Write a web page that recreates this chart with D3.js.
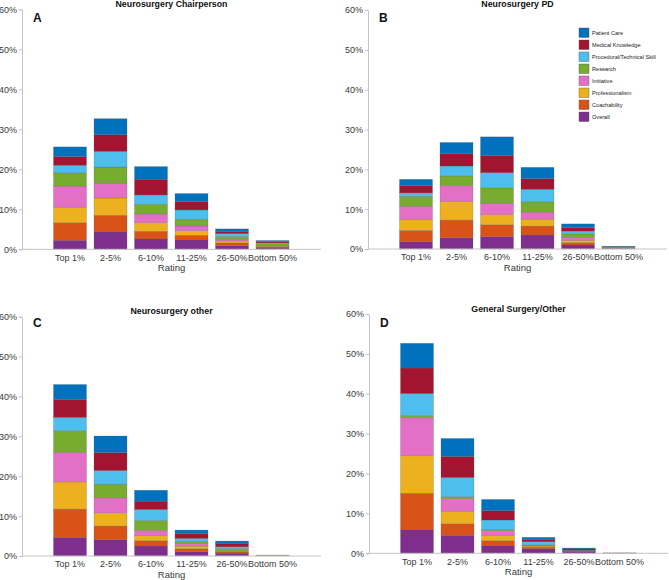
<!DOCTYPE html>
<html>
<head>
<meta charset="utf-8">
<script src="https://cdn.jsdelivr.net/npm/d3@7"></script>
<style>
  html, body { margin: 0; padding: 0; background: #fff; }
  svg { display: block; font-family: "Liberation Sans", Arial, sans-serif; }
</style>
</head>
<body>
<svg id="chart" width="669" height="580"></svg>
<script>
// ---------- DATA ----------
const ratings = ["Top 1%", "2-5%", "6-10%", "11-25%", "26-50%", "Bottom 50%"];
// stacking order: bottom -> top
const seriesNames = ["Overall", "Coachability", "Professionalism", "Initiative",
  "Research", "Procedural/Technical Skill", "Medical Knowledge", "Patient Care"];
const seriesColors = ["#7E2F8E", "#D95319", "#EDB120", "#E46FC6",
  "#77AC30", "#4DBEEE", "#A2142F", "#0072BD"];
const yTicks = [0, 10, 20, 30, 40, 50, 60];
const panelTitles = ["Neurosurgery Chairperson", "Neurosurgery PD", "Neurosurgery other", "General Surgery/Other"];
const panelLetters = ["A", "B", "C", "D"];

// values in % (rows follow seriesNames, columns follow ratings)
const chairpersonValues = [
  [2.25, 4.33, 2.58, 2.33, 0.9, 0.3],
  [4.4, 4.17, 1.92, 1.17, 0.7, 0.3],
  [3.9, 4.33, 2.17, 1.17, 0.5, 0.2],
  [5.25, 3.75, 2.17, 1.17, 0.5, 0.2],
  [3.3, 4.0, 2.42, 1.67, 0.6, 0.4],
  [1.9, 3.9, 2.33, 2.33, 0.7, 0.2],
  [2.2, 4.17, 3.92, 2.1, 0.6, 0.3],
  [2.4, 4.0, 3.17, 2.0, 0.6, 0.3]
];
const pdValues = [
  [1.83, 2.83, 3.08, 3.5, 1.0, 0.1],
  [2.83, 4.42, 3.0, 2.25, 0.6, 0.05],
  [2.67, 4.67, 2.58, 1.75, 0.6, 0.05],
  [3.42, 4.0, 2.83, 1.75, 0.7, 0.05],
  [2.5, 2.42, 3.83, 2.58, 0.9, 0.15],
  [0.83, 2.5, 3.83, 3.17, 0.7, 0.1],
  [1.83, 3.08, 4.33, 2.67, 0.9, 0.1],
  [1.58, 2.83, 4.67, 2.83, 0.9, 0.1]
];
const otherValues = [
  [4.67, 4.08, 2.5, 1.08, 0.7, 0],
  [7.08, 3.42, 1.33, 0.75, 0.3, 0],
  [6.83, 3.33, 1.25, 0.67, 0.2, 0.1],
  [7.42, 3.75, 1.33, 0.58, 0.1, 0],
  [5.42, 3.42, 2.5, 0.58, 0.6, 0.15],
  [3.33, 3.42, 2.75, 0.75, 0.4, 0],
  [4.5, 4.5, 2.08, 1.17, 0.9, 0],
  [3.75, 4.17, 2.75, 0.92, 0.55, 0]
];
const generalSurgeryValues = [
  [5.85, 4.5, 1.84, 1.2, 0.5, 0.05],
  [9.2, 2.9, 1.33, 0.35, 0.05, 0],
  [9.4, 3.1, 1.33, 0.3, 0.05, 0],
  [9.6, 3.2, 1.2, 0.15, 0.05, 0],
  [0.5, 0.5, 0.3, 0.1, 0.05, 0],
  [5.5, 4.8, 2.35, 0.8, 0.08, 0],
  [6.4, 5.3, 2.35, 0.6, 0.35, 0.05],
  [6.2, 4.5, 2.8, 0.5, 0.2, 0]
];

// ---------- LAYOUT ----------
const panels = [
  { values: chairpersonValues,    left: 22,  top: 9.3,   bottom: 249.3, titleY: 7,     letterY: 21.7, legend: false },
  { values: pdValues,             left: 368, top: 10,    bottom: 249,   titleY: 7,     letterY: 21.7, legend: true },
  { values: otherValues,          left: 22,  top: 316.7, bottom: 556,   titleY: 314,   letterY: 327.3, legend: false },
  { values: generalSurgeryValues, left: 369, top: 314,   bottom: 553.3, titleY: 311.5, letterY: 327.3, legend: false }
];
const axisWidth = 299;

const svg = d3.select("#chart");
const axisColor = "#c4c4c4";
const textColor = "#3a3a3a";

panels.forEach((p, pi) => {
  const g = svg.append("g");
  const x = d3.scaleBand()
    .domain(ratings)
    .range([p.left + 27.75, p.left + 270.75])
    .paddingInner(0.185)
    .paddingOuter(0.0925);
  const y = d3.scaleLinear().domain([0, 60]).range([p.bottom, p.top]);

  // stacked data
  const rows = ratings.map((r, ci) => {
    const o = { rating: r };
    seriesNames.forEach((s, si) => { o[s] = p.values[si][ci]; });
    return o;
  });
  const stacked = d3.stack().keys(seriesNames)(rows);

  g.selectAll("g.layer")
    .data(stacked)
    .join("g")
    .attr("class", "layer")
    .attr("fill", (d, i) => seriesColors[i])
    .selectAll("rect")
    .data(d => d)
    .join("rect")
    .attr("x", d => x(d.data.rating))
    .attr("width", x.bandwidth())
    .attr("y", d => y(d[1]))
    .attr("height", d => Math.max(0, y(d[0]) - y(d[1])))
    .attr("stroke", "rgba(90,90,90,0.45)")
    .attr("stroke-width", 0.5);

  // y axis
  const yAxis = d3.axisLeft(y).tickValues(yTicks).tickFormat(d => d + "%").tickSize(3).tickPadding(2);
  const ya = g.append("g").attr("transform", `translate(${p.left},0)`).call(yAxis);
  ya.select(".domain").attr("stroke", axisColor);
  ya.selectAll(".tick line").attr("stroke", axisColor);
  ya.selectAll(".tick text").attr("fill", textColor).style("font-size", "9px")
    .style("font-family", "Liberation Sans, Arial, sans-serif");

  // x axis
  const xAxis = d3.axisBottom(x).tickSize(0).tickPadding(5);
  const xa = g.append("g").attr("transform", `translate(0,${p.bottom})`).call(xAxis);
  xa.select(".domain").attr("d", `M${p.left},0H${p.left + axisWidth}`).attr("stroke", axisColor);
  xa.selectAll(".tick text").attr("fill", textColor).style("font-size", "9px")
    .style("font-family", "Liberation Sans, Arial, sans-serif");

  // x label
  g.append("text")
    .attr("x", p.left + 149.5)
    .attr("y", p.bottom + 22)
    .attr("text-anchor", "middle")
    .attr("fill", textColor)
    .style("font-size", "9.5px")
    .text("Rating");

  // title
  g.append("text")
    .attr("x", p.left + 149.5)
    .attr("y", p.titleY)
    .attr("text-anchor", "middle")
    .attr("fill", "#111")
    .style("font-size", "8.8px")
    .style("font-weight", "bold")
    .text(panelTitles[pi]);

  // panel letter
  g.append("text")
    .attr("x", p.left + 11)
    .attr("y", p.letterY)
    .attr("fill", "#111")
    .style("font-size", "12px")
    .style("font-weight", "bold")
    .text(panelLetters[pi]);

  if (p.legend) {
    const lg = g.append("g").attr("transform", "translate(579,28)");
    const order = seriesNames.slice().reverse();
    const colors = seriesColors.slice().reverse();
    order.forEach((s, i) => {
      lg.append("rect")
        .attr("x", 0).attr("y", i * 12)
        .attr("width", 10).attr("height", 9.5)
        .attr("fill", colors[i])
        .attr("stroke", "#555").attr("stroke-width", 0.4);
      lg.append("text")
        .attr("x", 13).attr("y", i * 12 + 6.8)
        .attr("fill", "#222")
        .style("font-size", "5.6px")
        .text(s);
    });
  }
});
</script>
</body>
</html>
